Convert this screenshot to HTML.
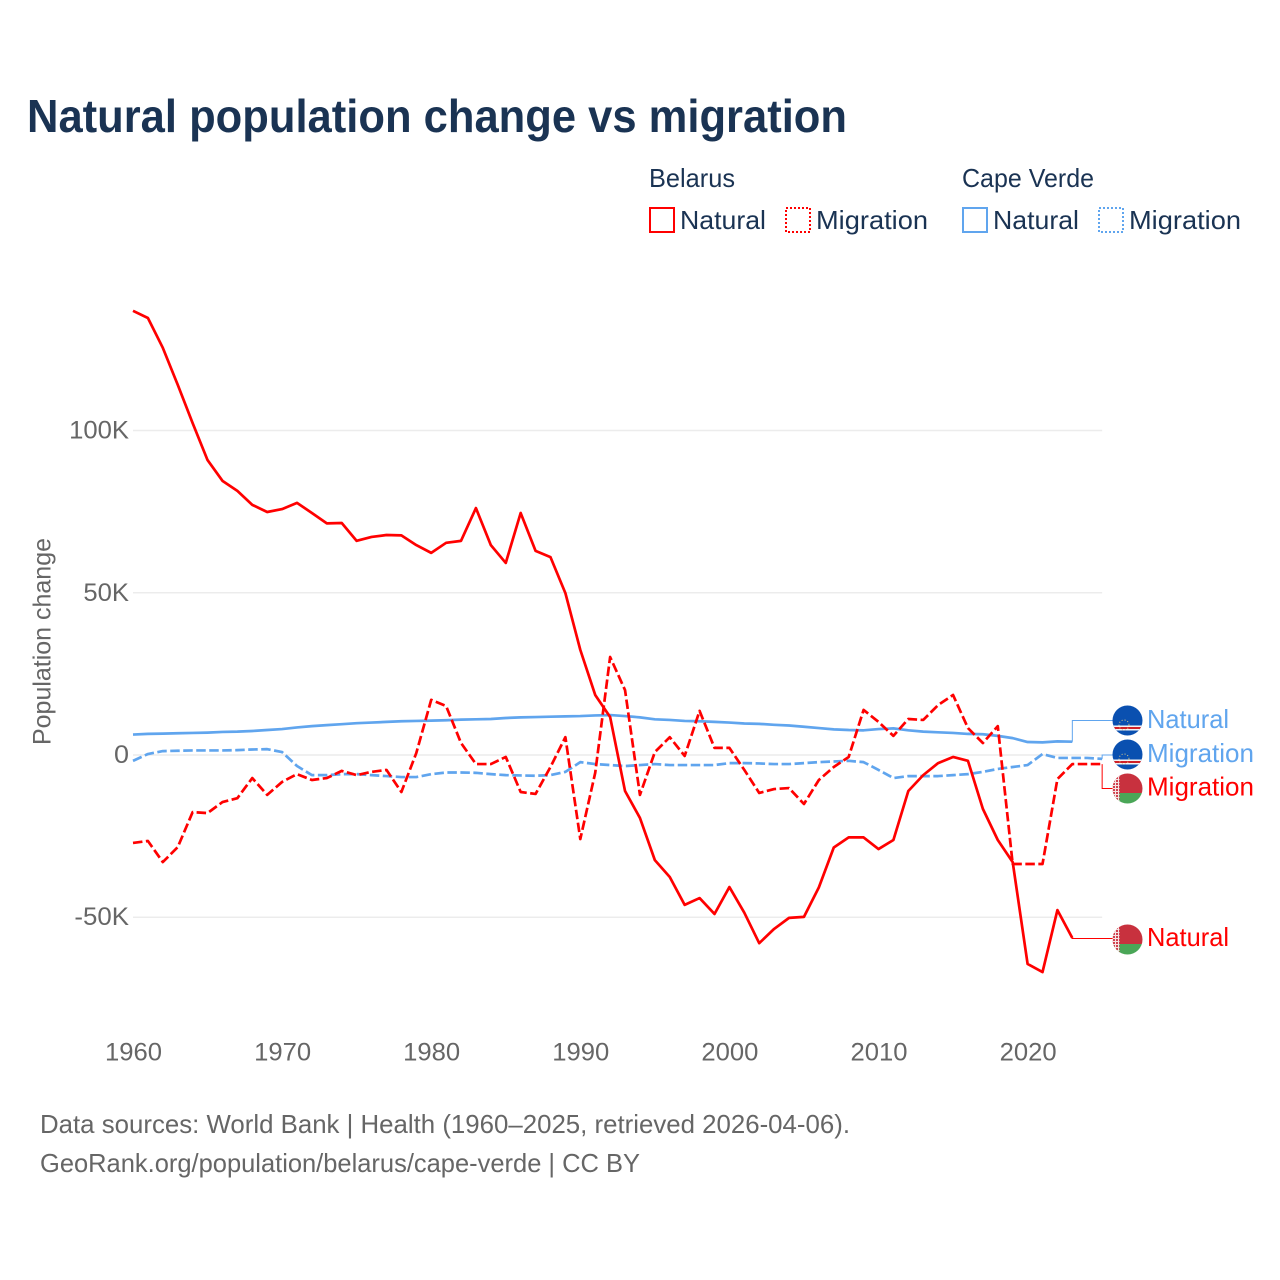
<!DOCTYPE html>
<html lang="en">
<head>
<meta charset="utf-8">
<title>Natural population change vs migration</title>
<style>
html,body{margin:0;padding:0;background:#fff;width:1280px;height:1280px;overflow:hidden}
svg{display:block}
text{font-family:"Liberation Sans",sans-serif}
</style>
</head>
<body>
<svg id="chart" width="1280" height="1280" viewBox="0 0 1280 1280" xmlns="http://www.w3.org/2000/svg">
  <defs>
    <clipPath id="flag-clip-a"><circle cx="1127.5" cy="720.5" r="15"/></clipPath>
    <clipPath id="flag-clip-b"><circle cx="1127.5" cy="754.5" r="15"/></clipPath>
    <clipPath id="flag-clip-c"><circle cx="1127.5" cy="788.5" r="15"/></clipPath>
    <clipPath id="flag-clip-d"><circle cx="1127.5" cy="939.5" r="15"/></clipPath>
    <pattern id="ornament" width="3" height="3" patternUnits="userSpaceOnUse">
      <rect width="3" height="3" fill="#f6e4e4"/>
      <rect width="2" height="2" fill="#d0404e"/>
    </pattern>
  </defs>

  <text x="27" y="132" font-size="46" font-weight="700" fill="#1a3353" textLength="820" lengthAdjust="spacingAndGlyphs">Natural population change vs migration</text>

  <g font-size="26" fill="#1a3353">
    <text x="649" y="187" textLength="86" lengthAdjust="spacingAndGlyphs">Belarus</text>
    <text x="962" y="187" textLength="132" lengthAdjust="spacingAndGlyphs">Cape Verde</text>
    <g>
      <rect x="650" y="208" width="24" height="24" fill="none" stroke="#ff0000" stroke-width="2"/>
      <text x="680" y="229" textLength="86" lengthAdjust="spacingAndGlyphs">Natural</text>
    </g>
    <g>
      <rect x="786" y="208" width="24" height="24" fill="none" stroke="#ff0000" stroke-width="2" stroke-dasharray="2 2"/>
      <text x="816" y="229" textLength="112" lengthAdjust="spacingAndGlyphs">Migration</text>
    </g>
    <g>
      <rect x="963" y="208" width="24" height="24" fill="none" stroke="#60a5ee" stroke-width="2"/>
      <text x="993" y="229" textLength="86" lengthAdjust="spacingAndGlyphs">Natural</text>
    </g>
    <g>
      <rect x="1099" y="208" width="24" height="24" fill="none" stroke="#60a5ee" stroke-width="2" stroke-dasharray="2 2"/>
      <text x="1129" y="229" textLength="112" lengthAdjust="spacingAndGlyphs">Migration</text>
    </g>
  </g>

  <g id="grid"></g>
  <g id="y-axis"></g>
  <g id="x-axis"></g>
  <text transform="translate(50.5,641.5) rotate(-90)" text-anchor="middle" font-size="25" fill="#666666" textLength="207" lengthAdjust="spacingAndGlyphs">Population change</text>
  <g id="leaders"></g>
  <g id="series"></g>

  <g clip-path="url(#flag-clip-a)">
    <rect x="1112" y="705" width="31" height="31" fill="#0a50b0"/>
    <rect x="1112" y="725.5" width="31" height="5" fill="#f4f4f4"/>
    <rect x="1112" y="727" width="31" height="2" fill="#cf2027"/>
    <circle cx="1124" cy="725" r="5" fill="none" stroke="#d9c98a" stroke-width="1" stroke-dasharray="1 2"/>
  </g>
  <g clip-path="url(#flag-clip-b)">
    <rect x="1112" y="739" width="31" height="31" fill="#0a50b0"/>
    <rect x="1112" y="759.5" width="31" height="5" fill="#f4f4f4"/>
    <rect x="1112" y="761" width="31" height="2" fill="#cf2027"/>
    <circle cx="1124" cy="759" r="5" fill="none" stroke="#d9c98a" stroke-width="1" stroke-dasharray="1 2"/>
  </g>
  <g clip-path="url(#flag-clip-c)">
    <rect x="1112" y="773" width="31" height="20" fill="#c8313e"/>
    <rect x="1112" y="793" width="31" height="11" fill="#4aa657"/>
    <rect x="1112" y="773" width="7.5" height="31" fill="url(#ornament)"/>
  </g>
  <g clip-path="url(#flag-clip-d)">
    <rect x="1112" y="924" width="31" height="20" fill="#c8313e"/>
    <rect x="1112" y="944" width="31" height="11" fill="#4aa657"/>
    <rect x="1112" y="924" width="7.5" height="31" fill="url(#ornament)"/>
  </g>

  <g font-size="26">
    <text x="1147" y="728" fill="#60a5ee" textLength="82" lengthAdjust="spacingAndGlyphs">Natural</text>
    <text x="1147" y="762" fill="#60a5ee" textLength="107" lengthAdjust="spacingAndGlyphs">Migration</text>
    <text x="1147" y="795.5" fill="#ff0000" textLength="107" lengthAdjust="spacingAndGlyphs">Migration</text>
    <text x="1147" y="946" fill="#ff0000" textLength="82" lengthAdjust="spacingAndGlyphs">Natural</text>
  </g>

  <g font-size="26" fill="#666666">
    <text x="40" y="1133" textLength="810" lengthAdjust="spacingAndGlyphs">Data sources: World Bank | Health (1960–2025, retrieved 2026-04-06).</text>
    <text x="40" y="1172" textLength="600" lengthAdjust="spacingAndGlyphs">GeoRank.org/population/belarus/cape-verde | CC BY</text>
  </g>
</svg>
<script>
const startYear = 1960;
const xTickYears = [1960, 1970, 1980, 1990, 2000, 2010, 2020];
const yTickValues = [100, 50, 0, -50];
const belarusNatural = [136.9,134.7,125.5,114.1,102.3,90.9,84.5,81.4,77.1,74.9,75.8,77.7,74.6,71.4,71.5,66.0,67.2,67.8,67.7,64.7,62.3,65.4,66.0,76.1,64.7,59.2,74.6,62.9,61.0,49.9,32.4,18.5,11.7,-11.1,-19.4,-32.4,-37.6,-46.2,-44.1,-49.0,-40.7,-48.6,-58.0,-53.6,-50.2,-49.9,-40.8,-28.5,-25.4,-25.4,-29.0,-26.2,-11.1,-6.2,-2.5,-0.6,-1.8,-16.6,-26.2,-33.0,-64.4,-66.9,-47.8,-56.4];
const belarusMigration = [-27.1,-26.5,-33.0,-28.4,-17.6,-17.9,-14.5,-13.3,-7.1,-12.3,-8.3,-5.9,-7.7,-7.1,-4.9,-6.2,-5.2,-4.6,-11.4,0.6,17.0,15.1,3.7,-2.8,-2.8,-0.6,-11.4,-12.0,-3.7,5.5,-25.9,-5.5,30.2,20.0,-12.3,0.9,5.5,-0.3,13.6,2.2,2.2,-4.6,-11.7,-10.5,-10.2,-15.1,-7.7,-3.7,-0.6,13.9,10.2,5.9,11.1,10.8,15.4,18.5,8.3,3.7,8.9,-33.6,-33.6,-33.6,-7.4,-2.8,-2.8,-2.8];
const capeVerdeNatural = [6.3,6.5,6.6,6.7,6.8,6.9,7.1,7.2,7.4,7.7,8.0,8.5,8.9,9.2,9.5,9.8,10.0,10.2,10.4,10.5,10.6,10.7,10.9,11.0,11.1,11.4,11.6,11.7,11.8,11.9,12.0,12.2,12.3,12.0,11.6,11.0,10.8,10.5,10.4,10.2,10.0,9.7,9.6,9.3,9.1,8.7,8.3,7.9,7.7,7.6,8.0,8.2,7.6,7.2,7.0,6.8,6.5,6.4,5.9,5.2,4.0,3.9,4.2,4.1];
const capeVerdeMigration = [-1.8,0.3,1.2,1.3,1.4,1.4,1.4,1.5,1.7,1.8,0.9,-3.4,-6.2,-6.2,-5.9,-5.9,-6.2,-6.5,-6.8,-6.8,-5.9,-5.4,-5.4,-5.5,-5.9,-6.2,-6.3,-6.4,-6.2,-5.2,-2.2,-2.8,-3.1,-3.4,-3.1,-2.8,-3.1,-3.1,-3.1,-3.1,-2.5,-2.5,-2.6,-2.8,-2.8,-2.5,-2.2,-2.0,-1.8,-2.2,-4.6,-7.1,-6.5,-6.5,-6.5,-6.2,-5.9,-5.2,-4.3,-3.7,-3.1,0.3,-0.9,-0.9,-0.9,-1.2];

const NS = 'http://www.w3.org/2000/svg';
function xScale(year) { return 133 + (year - 1960) * 14.91; }
function yScale(value) { return 755 - value * 3.2445; }
function linePath(values) {
  return values.map(function (v, i) {
    return (i ? 'L' : 'M') + xScale(startYear + i).toFixed(2) + ' ' + yScale(v).toFixed(2);
  }).join('');
}
function formatTick(v) { return v === 0 ? '0' : v + 'K'; }
function tickWidth(v) {
  if (v === 0) return 15;
  return String(Math.abs(v)).length * 14.3 + 17 + (v < 0 ? 9 : 0);
}

const gridGroup = document.getElementById('grid');
const yAxisGroup = document.getElementById('y-axis');
const xAxisGroup = document.getElementById('x-axis');
const seriesGroup = document.getElementById('series');
const leaderGroup = document.getElementById('leaders');

yTickValues.forEach(function (v) {
  const line = document.createElementNS(NS, 'line');
  
  
  line.setAttribute('x1', xScale(1960));
  line.setAttribute('x2', xScale(2025));
  line.setAttribute('y1', yScale(v));
  line.setAttribute('y2', yScale(v));
  line.setAttribute('stroke', '#ececec');
  line.setAttribute('stroke-width', '1.5');
  gridGroup.appendChild(line);

  const label = document.createElementNS(NS, 'text');
  
  
  label.setAttribute('x', '129');
  label.setAttribute('y', yScale(v) + 8);
  label.setAttribute('text-anchor', 'end');
  label.setAttribute('font-size', '25');
  label.setAttribute('fill', '#666666');
  label.setAttribute('textLength', tickWidth(v));
  label.setAttribute('lengthAdjust', 'spacingAndGlyphs');
  label.textContent = formatTick(v);
  yAxisGroup.appendChild(label);
});

xTickYears.forEach(function (year) {
  const label = document.createElementNS(NS, 'text');
  
  
  label.setAttribute('x', xScale(year) + 0.5);
  label.setAttribute('y', '1060.5');
  label.setAttribute('text-anchor', 'middle');
  label.setAttribute('font-size', '25');
  label.setAttribute('fill', '#666666');
  label.setAttribute('textLength', '57');
  label.setAttribute('lengthAdjust', 'spacingAndGlyphs');
  label.textContent = year;
  xAxisGroup.appendChild(label);
});

function addSeries(name, values, color, dashed, labelY, leaderX) {
  const path = document.createElementNS(NS, 'path');
  
  
  path.setAttribute('d', linePath(values));
  path.setAttribute('fill', 'none');
  path.setAttribute('stroke', color);
  path.setAttribute('stroke-width', '2.7');
  path.setAttribute('stroke-linejoin', 'round');
  if (dashed) path.setAttribute('stroke-dasharray', '9.5 3.5');
  seriesGroup.appendChild(path);

  const last = values.length - 1;
  const endX = xScale(startYear + last);
  const leader = document.createElementNS(NS, 'path');
  
  
  leader.setAttribute('d', 'M' + endX + ' ' + yScale(values[last]) + 'H' + leaderX + 'V' + labelY + 'H1113');
  leader.setAttribute('fill', 'none');
  leader.setAttribute('stroke', color);
  leader.setAttribute('stroke-width', '1');
  leaderGroup.appendChild(leader);
}

addSeries('line-cape-verde-natural', capeVerdeNatural, '#60a5ee', false, 720.5, xScale(2023));
addSeries('line-cape-verde-migration', capeVerdeMigration, '#60a5ee', true, 755, xScale(2025));
addSeries('line-belarus-natural', belarusNatural, '#ff0000', false, 938.5, xScale(2023));
addSeries('line-belarus-migration', belarusMigration, '#ff0000', true, 788.5, xScale(2025));
</script>
</body>
</html>
